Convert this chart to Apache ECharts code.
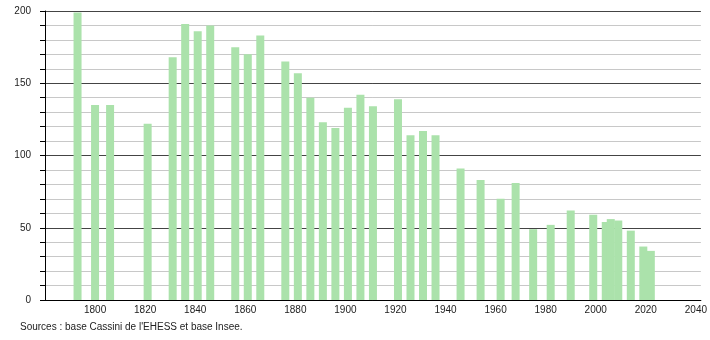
<!DOCTYPE html>
<html><head><meta charset="utf-8">
<script src="https://cdn.jsdelivr.net/npm/echarts@6/dist/echarts.min.js"></script>
<style>html,body{margin:0;padding:0;background:#fff}#c{width:710px;height:340px}</style>
</head><body><div id="c"></div>
<script>
const years = [1793,1800,1806,1821,1831,1836,1841,1846,1856,1861,1866,1876,1881,1886,1891,1896,1901,1906,1911,1921,1926,1931,1936,1946,1954,1962,1968,1975,1982,1990,1999,2004,2006,2009,2014,2019,2022];
const population = [199,135,135,122,168,191,186,190,175,170,183,165,157,140,123,119,133,142,134,139,114,117,114,91,83,70,81,49,52,62,59,54,56,55,48,37,34];
const xTicks = [1800,1820,1840,1860,1880,1900,1920,1940,1960,1980,2000,2020,2040];
const yTicks = [0,50,100,150,200];
const sourceText = "Sources : base Cassini de l'EHESS et base Insee.";

const chart = echarts.init(document.getElementById('c'), null, {renderer:'canvas'});
chart.setOption({
  animation:false,
  backgroundColor:'#fff',
  grid:{left:45,right:9,top:11,bottom:40,containLabel:false},
  xAxis:{type:'value',min:1780,max:2042,interval:20,
    axisLine:{show:true,lineStyle:{color:'#000',width:1}},
    axisTick:{show:false},splitLine:{show:false},
    axisLabel:{margin:5,color:'#222',fontFamily:'Liberation Sans',fontSize:10,
      showMaxLabel:false,
      formatter:v=>xTicks.includes(v)?String(v):''}},
  yAxis:{type:'value',min:0,max:200,interval:10,
    axisLine:{show:true,lineStyle:{color:'#000',width:1}},
    axisTick:{show:true,inside:false,length:5,lineStyle:{color:'#000'}},
    splitLine:{show:true,lineStyle:{color:['#444','#c8c8c8','#c8c8c8','#c8c8c8','#c8c8c8'],width:1}},
    axisLabel:{margin:14,color:'#222',fontFamily:'Liberation Sans',fontSize:10,
      formatter:v=>yTicks.includes(v)?String(v):''}},
  series:[{type:'bar',barWidth:8,
    data:years.map((y,i)=>[y,population[i]]),
    itemStyle:{color:'#abe2ab'}}],
  graphic:[{type:'text',left:20,top:322,
    style:{text:sourceText,fill:'#222',font:'10px "Liberation Sans"'}}]
});
</script></body></html>
